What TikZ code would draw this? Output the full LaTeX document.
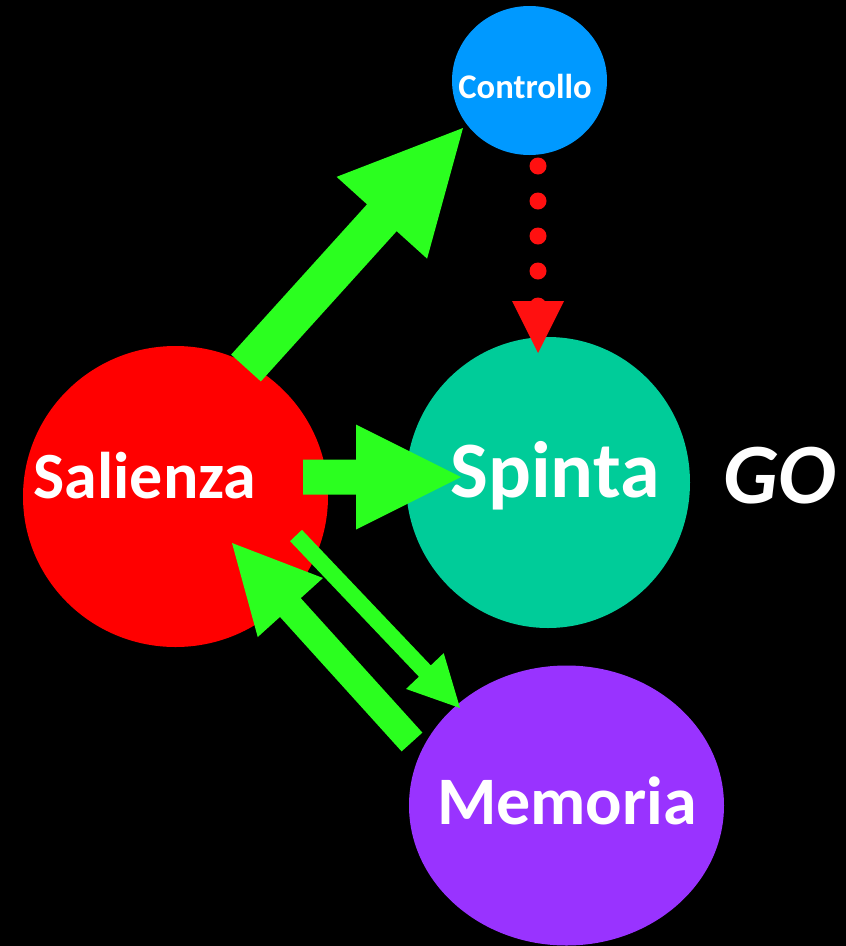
\documentclass[tikz,border=0pt]{standalone}
\usepackage{fontspec}
\setmainfont{Carlito}
\usetikzlibrary{calc,shapes.geometric}
\definecolor{agreen}{RGB}{43,255,31}
\definecolor{cblue}{RGB}{0,153,255}
\definecolor{steal}{RGB}{0,204,153}
\definecolor{sred}{RGB}{255,0,0}
\definecolor{mpurple}{RGB}{153,51,255}
\definecolor{dotred}{RGB}{255,16,16}
\tikzset{
  blob/.style={ellipse, inner sep=0pt, draw=none},
  lbl/.style={text=white, inner sep=0pt, anchor=base, font=\bfseries},
  arrowfill/.style={fill=agreen, draw=none},
}
% #1 prefix, #2 start, #3 end, #4 shaft half width, #5 head half width, #6 head length
\newcommand\blockarrow[6]{%
  \coordinate (#1hb) at ($(#3)!#6!(#2)$);
  \fill[arrowfill] ($(#2)!#4!90:(#3)$) -- ($(#1hb)!#4!-90:(#2)$) -- ($(#1hb)!#5!-90:(#2)$)
     -- (#3) -- ($(#1hb)!#5!90:(#2)$) -- ($(#1hb)!#4!90:(#2)$) -- ($(#2)!#4!-90:(#3)$) -- cycle;
}
\begin{document}
\begin{tikzpicture}[x=1pt,y=-1pt]
\useasboundingbox (0,0) rectangle (846,946);
\fill[black] (0,0) rectangle (846,946);

% circles
\node[blob, fill=cblue, minimum width=155pt, minimum height=149pt] (controllo) at (529.5,80.5) {};
\node[blob, fill=steal, minimum width=284pt, minimum height=291pt] (spinta) at (548,482.5) {};
\node[blob, fill=sred, minimum width=305pt, minimum height=301pt] (salienza) at (175.5,496.5) {};
\node[blob, fill=mpurple, minimum width=315pt, minimum height=280pt] (memoria) at (566.5,805.5) {};

% arrow end points
\coordinate (a1s) at (246,368);   \coordinate (a1e) at (463,128);
\coordinate (a2s) at (303,477);   \coordinate (a2e) at (461,477);
\coordinate (a3s) at (296,535.5); \coordinate (a3e) at (460,708);
\coordinate (a4s) at (412,742);   \coordinate (a4e) at (232,543);

\blockarrow{a1}{a1s}{a1e}{20pt}{61pt}{121pt}
\blockarrow{a2}{a2s}{a2e}{17.5pt}{52.5pt}{105pt}
\blockarrow{a3}{a3s}{a3e}{8.2pt}{26pt}{51pt}
\blockarrow{a4}{a4s}{a4e}{14pt}{44pt}{87pt}

% dotted red arrow
\coordinate (d1) at (538,166);
\coordinate (d2) at (538,307);
\coordinate (dtip) at (538,353);
\draw[dotred, line width=17pt, line cap=round, dash pattern=on 0pt off 35pt] (d1) -- (d2);
\fill[dotred] ($(dtip)+(-26,-52)$) -- ($(dtip)+(26,-52)$) -- (dtip) -- cycle;

% labels
\node[lbl, font=\bfseries\fontsize{34.6}{40}\selectfont] (controlloT) at (525,98) {Controllo};
\node[lbl, font=\bfseries\fontsize{80}{90}\selectfont] (spintaT) at (555,497) {Spinta};
\node[lbl, font=\bfseries\fontsize{66}{75}\selectfont] (salienzaT) at (145,498) {Salienza};
\node[lbl, font=\bfseries\fontsize{68}{78}\selectfont] (memoriaT) at (567,824) {Memoria};
\node[lbl, font=\bfseries\itshape\fontsize{86}{96}\selectfont] (go) at (780,503) {GO};
\end{tikzpicture}
\end{document}
